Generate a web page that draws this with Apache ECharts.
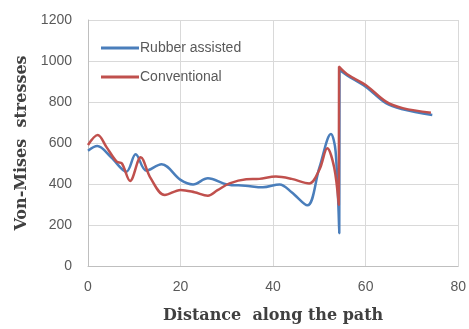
<!DOCTYPE html>
<html><head><meta charset="utf-8">
<script src="https://cdn.jsdelivr.net/npm/echarts@6/dist/echarts.min.js"></script>
<style>html,body{margin:0;padding:0;background:#fff}#c{width:469px;height:329px}</style>
</head><body><div id="c"></div>
<script>
var seriesNames = ['Rubber assisted', 'Conventional'];
var rubberX = [0, 2, 5, 8.3, 10.3, 12.6, 15.9, 20, 22.7, 25.9, 30, 34, 37.8, 41.4, 44, 47.4, 50, 52.5, 53.5, 54.3, 54.35, 56, 60, 64.4, 68, 74.4];
var rubberY = [562, 585, 530, 460, 545, 465, 496, 420, 398, 428, 398, 392, 384, 398, 360, 296, 480, 644, 560, 160, 956, 930, 875, 794, 765, 737];
var convX = [0, 2.1, 4, 6.2, 7.3, 9.1, 11.4, 13.5, 16.6, 20, 23, 25.9, 28, 30.6, 34.2, 37, 40.6, 44, 47.8, 50, 51.7, 53.2, 54.2, 54.25, 56, 60, 64.4, 68, 74.1];
var convY = [590, 639, 580, 509, 501, 415, 530, 430, 346, 371, 360, 343, 370, 403, 423, 425, 436, 425, 403, 470, 574, 480, 298, 972, 935, 883, 802, 770, 748];
var xTicks = [0, 20, 40, 60, 80];
var yTicks = [0, 200, 400, 600, 800, 1000, 1200];

function pairs(xs, ys){ return xs.map(function(x,i){ return [x, ys[i]]; }); }

var chart = echarts.init(document.getElementById('c'));
var labelStyle = {color:'#595959', fontFamily:'Liberation Sans, Arial, sans-serif', fontSize:14};
var nameStyle = {color:'#404040', fontFamily:'DejaVu Serif, serif', fontWeight:'bold', fontSize:16};
chart.setOption({
  animation:false,
  backgroundColor:'#fff',
  grid:{left:88, right:10, top:20, bottom:63},
  legend:{
    orient:'vertical', left:96, top:36, itemWidth:38, itemHeight:3, itemGap:15,
    icon:'rect',
    textStyle:{color:'#595959', fontFamily:'Liberation Sans, Arial, sans-serif', fontSize:14, padding:[0,0,0,-4]},
    data:seriesNames
  },
  xAxis:{
    type:'value', min:xTicks[0], max:xTicks[xTicks.length-1], interval:20,
    name:'Distance  along the path', nameLocation:'middle', nameGap:42, nameTextStyle:nameStyle,
    axisLine:{show:true, lineStyle:{color:'#bfbfbf', width:1}},
    axisTick:{show:false},
    axisLabel:Object.assign({margin:14, formatter:function(v){return String(v);}}, labelStyle),
    splitLine:{show:true, lineStyle:{color:'#d9d9d9', width:1}}
  },
  yAxis:{
    type:'value', min:yTicks[0], max:yTicks[yTicks.length-1], interval:200,
    name:'Von-Mises  stresses', nameLocation:'middle', nameGap:54, nameTextStyle:nameStyle,
    axisLine:{show:true, lineStyle:{color:'#bfbfbf', width:1}},
    axisTick:{show:false},
    axisLabel:Object.assign({margin:16, formatter:function(v){return String(v);}}, labelStyle),
    splitLine:{show:true, lineStyle:{color:'#d9d9d9', width:1}}
  },
  series:[
    {name:seriesNames[0], type:'line', data:pairs(rubberX, rubberY), smooth:0.35, showSymbol:false,
     lineStyle:{color:'#4a7ebb', width:2.5}, itemStyle:{color:'#4a7ebb'}},
    {name:seriesNames[1], type:'line', data:pairs(convX, convY), smooth:0.35, showSymbol:false,
     lineStyle:{color:'#c0504d', width:2.5}, itemStyle:{color:'#c0504d'}}
  ]
});
</script></body></html>
